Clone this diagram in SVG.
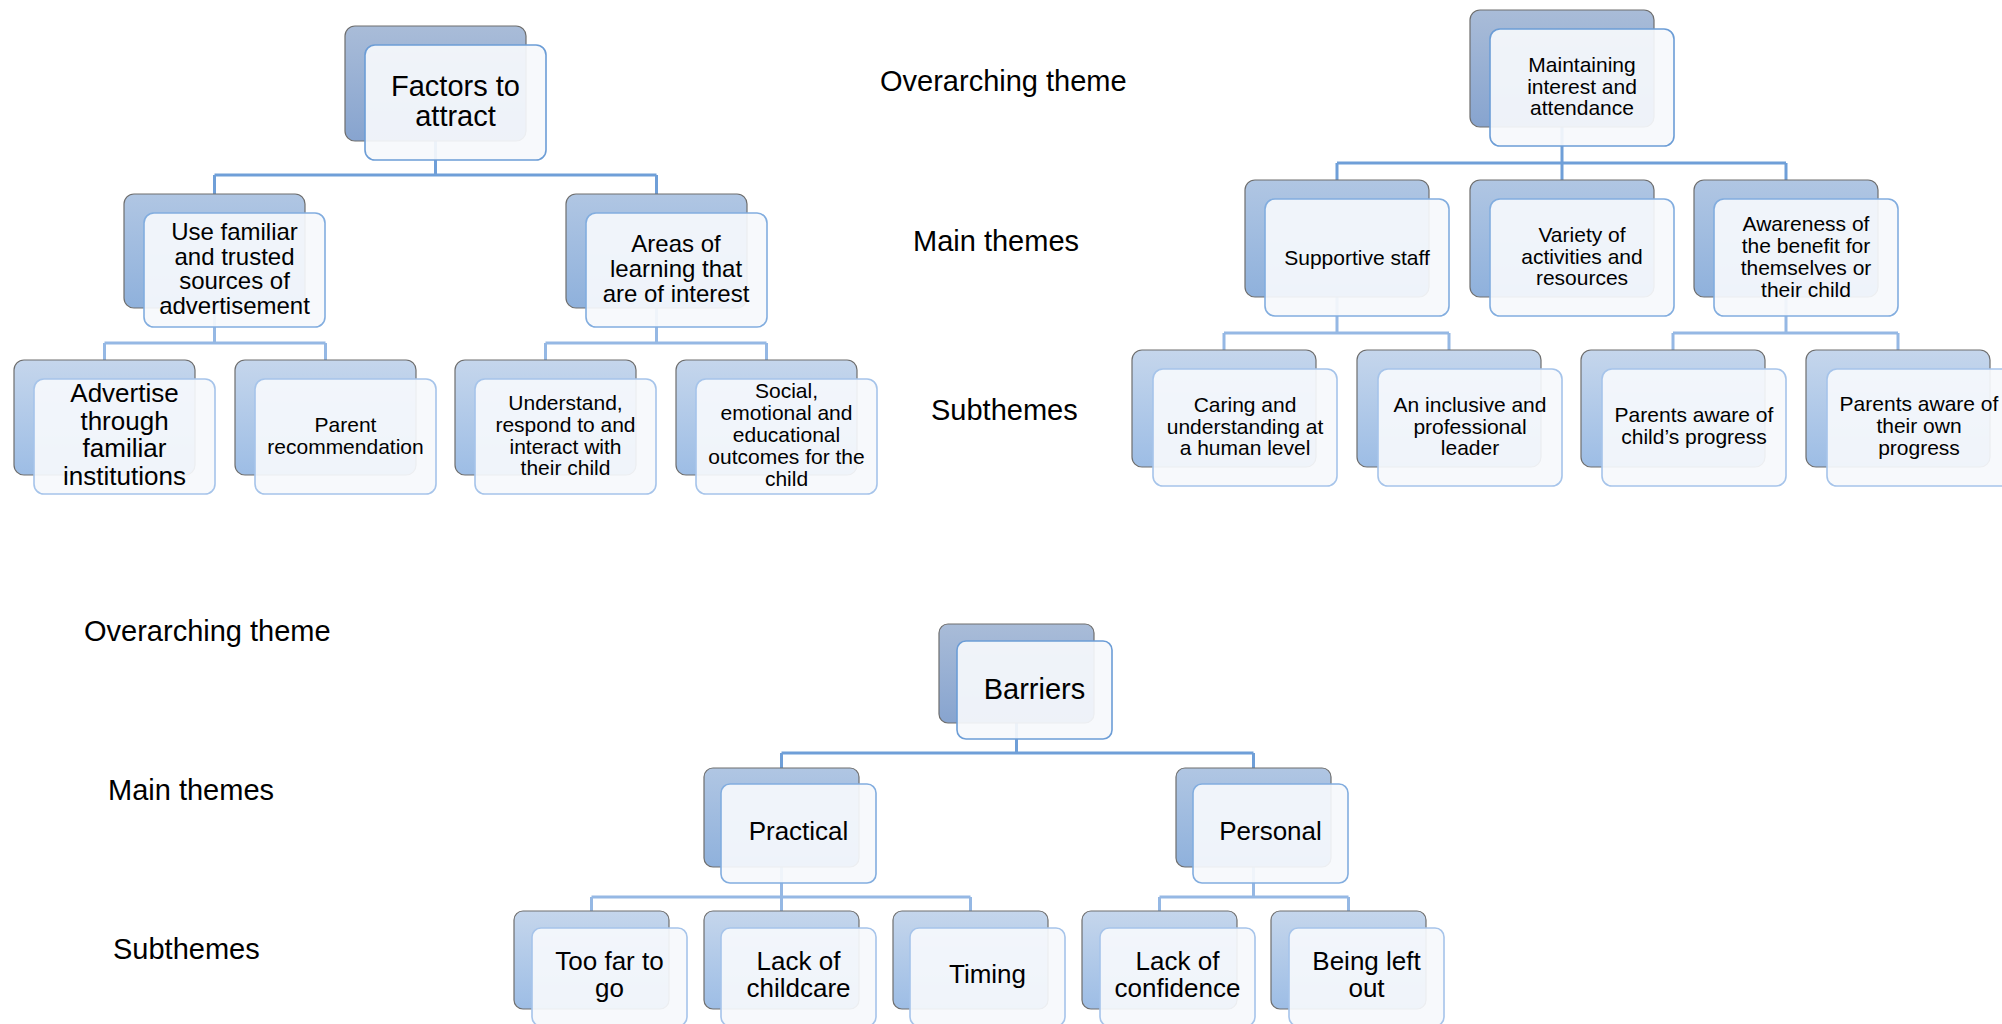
<svg xmlns="http://www.w3.org/2000/svg" width="2002" height="1024" viewBox="0 0 2002 1024">
  <defs>
    <linearGradient id="gL1" x1="0" y1="0" x2="0" y2="1">
      <stop offset="0" stop-color="#a9bcd8"/>
      <stop offset="1" stop-color="#87a4cf"/>
    </linearGradient>
    <linearGradient id="gL2" x1="0" y1="0" x2="0" y2="1">
      <stop offset="0" stop-color="#b0c6e3"/>
      <stop offset="1" stop-color="#8fb1dc"/>
    </linearGradient>
    <linearGradient id="gL3" x1="0" y1="0" x2="0" y2="1">
      <stop offset="0" stop-color="#c5d6ec"/>
      <stop offset="1" stop-color="#9dbde5"/>
    </linearGradient>
    <style>
      .back { stroke: #6e6e6e; stroke-width: 1.2; }
      .b1 { fill: url(#gL1); }
      .b2 { fill: url(#gL2); }
      .b3 { fill: url(#gL3); }
      .front { fill: #f6f8fc; fill-opacity: 0.92; stroke-width: 1.6; }
      .f1 { stroke: #6c9dd6; }
      .f2 { stroke: #82addf; }
      .f3 { stroke: #a6c4ea; }
      text { font-family: "Liberation Sans", Arial, sans-serif; fill: #000; }
      .t { text-anchor: middle; }
      .s29 { font-size: 29px; }
      .s26 { font-size: 26px; }
      .s24 { font-size: 24px; }
      .s21 { font-size: 21px; }
      .lbl { font-size: 29px; }
      .c1 { fill: none; stroke: #6f9fd8; stroke-width: 3; }
      .c2 { fill: none; stroke: #95b8e4; stroke-width: 3; }
    </style>
  </defs>

  <rect width="2002" height="1024" fill="#ffffff"/>

  <!-- level captions -->
  <g id="captions">
    <text class="lbl" x="880" y="91">Overarching theme</text>
    <text class="lbl" x="913" y="251">Main themes</text>
    <text class="lbl" x="931" y="420">Subthemes</text>
    <text class="lbl" x="84" y="641">Overarching theme</text>
    <text class="lbl" x="108" y="800">Main themes</text>
    <text class="lbl" x="113" y="959">Subthemes</text>
  </g>

  <!-- connectors -->
  <g id="connectors">
    <!-- Factors to attract -->
    <path class="c1" d="M435.5 141 V175 M214.5 175 H656.5 M214.5 175 V194 M656.5 175 V194"/>
    <path class="c2" d="M214.5 308 V343 M104.5 343 H325.5 M104.5 343 V360 M325.5 343 V360"/>
    <path class="c2" d="M656.5 308 V343 M545.5 343 H766.5 M545.5 343 V360 M766.5 343 V360"/>
    <!-- Maintaining interest and attendance -->
    <path class="c1" d="M1562 127 V163 M1337 163 H1786 M1337 163 V180 M1562 163 V180 M1786 163 V180"/>
    <path class="c2" d="M1337 297 V333 M1224 333 H1449 M1224 333 V350 M1449 333 V350"/>
    <path class="c2" d="M1786 297 V333 M1673 333 H1898 M1673 333 V350 M1898 333 V350"/>
    <!-- Barriers -->
    <path class="c1" d="M1016.5 723 V753 M781.5 753 H1253.5 M781.5 753 V768 M1253.5 753 V768"/>
    <path class="c2" d="M781.5 867 V897 M591.5 897 H970.5 M591.5 897 V911 M781.5 897 V911 M970.5 897 V911"/>
    <path class="c2" d="M1253.5 867 V897 M1159.5 897 H1348.5 M1159.5 897 V911 M1348.5 897 V911"/>
  </g>

  <!-- ===== Factors to attract ===== -->
  <g id="factors-to-attract">
    <rect class="back b1" x="345" y="26" width="181" height="115" rx="10"/>
    <rect class="front f1" x="365" y="45" width="181" height="115" rx="10"/>
    <text class="t s29"><tspan x="455.5" y="96">Factors to</tspan><tspan x="455.5" y="126">attract</tspan></text>
  </g>
  <g id="use-familiar-sources">
    <rect class="back b2" x="124" y="194" width="181" height="114" rx="10"/>
    <rect class="front f2" x="144" y="213" width="181" height="114" rx="10"/>
    <text class="t s24"><tspan x="234.5" y="240">Use familiar</tspan><tspan x="234.5" y="264.5">and trusted</tspan><tspan x="234.5" y="289">sources of</tspan><tspan x="234.5" y="313.5">advertisement</tspan></text>
  </g>
  <g id="areas-of-learning">
    <rect class="back b2" x="566" y="194" width="181" height="114" rx="10"/>
    <rect class="front f2" x="586" y="213" width="181" height="114" rx="10"/>
    <text class="t s24"><tspan x="676" y="252">Areas of</tspan><tspan x="676" y="277">learning that</tspan><tspan x="676" y="302">are of interest</tspan></text>
  </g>
  <g id="advertise-institutions">
    <rect class="back b3" x="14" y="360" width="181" height="115" rx="10"/>
    <rect class="front f3" x="34" y="379" width="181" height="115" rx="10"/>
    <text class="t s26"><tspan x="124.5" y="402">Advertise</tspan><tspan x="124.5" y="429.5">through</tspan><tspan x="124.5" y="457">familiar</tspan><tspan x="124.5" y="484.5">institutions</tspan></text>
  </g>
  <g id="parent-recommendation">
    <rect class="back b3" x="235" y="360" width="181" height="115" rx="10"/>
    <rect class="front f3" x="255" y="379" width="181" height="115" rx="10"/>
    <text class="t s21"><tspan x="345.5" y="432">Parent</tspan><tspan x="345.5" y="453.5">recommendation</tspan></text>
  </g>
  <g id="understand-respond">
    <rect class="back b3" x="455" y="360" width="181" height="115" rx="10"/>
    <rect class="front f3" x="475" y="379" width="181" height="115" rx="10"/>
    <text class="t s21"><tspan x="565.5" y="410">Understand,</tspan><tspan x="565.5" y="432">respond to and</tspan><tspan x="565.5" y="453.5">interact with</tspan><tspan x="565.5" y="475">their child</tspan></text>
  </g>
  <g id="social-outcomes">
    <rect class="back b3" x="676" y="360" width="181" height="115" rx="10"/>
    <rect class="front f3" x="696" y="379" width="181" height="115" rx="10"/>
    <text class="t s21"><tspan x="786.5" y="398">Social,</tspan><tspan x="786.5" y="420">emotional and</tspan><tspan x="786.5" y="442">educational</tspan><tspan x="786.5" y="464">outcomes for the</tspan><tspan x="786.5" y="486">child</tspan></text>
  </g>

  <!-- ===== Maintaining interest and attendance ===== -->
  <g id="maintaining-interest">
    <rect class="back b1" x="1470" y="10" width="184" height="117" rx="10"/>
    <rect class="front f1" x="1490" y="29" width="184" height="117" rx="10"/>
    <text class="t s21"><tspan x="1582" y="72">Maintaining</tspan><tspan x="1582" y="93.5">interest and</tspan><tspan x="1582" y="115">attendance</tspan></text>
  </g>
  <g id="supportive-staff">
    <rect class="back b2" x="1245" y="180" width="184" height="117" rx="10"/>
    <rect class="front f2" x="1265" y="199" width="184" height="117" rx="10"/>
    <text class="t s21" x="1357" y="265">Supportive staff</text>
  </g>
  <g id="variety-of-activities">
    <rect class="back b2" x="1470" y="180" width="184" height="117" rx="10"/>
    <rect class="front f2" x="1490" y="199" width="184" height="117" rx="10"/>
    <text class="t s21"><tspan x="1582" y="242">Variety of</tspan><tspan x="1582" y="263.5">activities and</tspan><tspan x="1582" y="285">resources</tspan></text>
  </g>
  <g id="awareness-of-benefit">
    <rect class="back b2" x="1694" y="180" width="184" height="117" rx="10"/>
    <rect class="front f2" x="1714" y="199" width="184" height="117" rx="10"/>
    <text class="t s21"><tspan x="1806" y="231">Awareness of</tspan><tspan x="1806" y="253">the benefit for</tspan><tspan x="1806" y="274.5">themselves or</tspan><tspan x="1806" y="296.5">their child</tspan></text>
  </g>
  <g id="caring-understanding">
    <rect class="back b3" x="1132" y="350" width="184" height="117" rx="10"/>
    <rect class="front f3" x="1153" y="369" width="184" height="117" rx="10"/>
    <text class="t s21"><tspan x="1245" y="412">Caring and</tspan><tspan x="1245" y="433.5">understanding at</tspan><tspan x="1245" y="455">a human level</tspan></text>
  </g>
  <g id="inclusive-leader">
    <rect class="back b3" x="1357" y="350" width="184" height="117" rx="10"/>
    <rect class="front f3" x="1378" y="369" width="184" height="117" rx="10"/>
    <text class="t s21"><tspan x="1470" y="412">An inclusive and</tspan><tspan x="1470" y="433.5">professional</tspan><tspan x="1470" y="455">leader</tspan></text>
  </g>
  <g id="aware-child-progress">
    <rect class="back b3" x="1581" y="350" width="184" height="117" rx="10"/>
    <rect class="front f3" x="1602" y="369" width="184" height="117" rx="10"/>
    <text class="t s21"><tspan x="1694" y="422">Parents aware of</tspan><tspan x="1694" y="444">child’s progress</tspan></text>
  </g>
  <g id="aware-own-progress">
    <rect class="back b3" x="1806" y="350" width="184" height="117" rx="10"/>
    <rect class="front f3" x="1827" y="369" width="184" height="117" rx="10"/>
    <text class="t s21"><tspan x="1919" y="411">Parents aware of</tspan><tspan x="1919" y="433">their own</tspan><tspan x="1919" y="455">progress</tspan></text>
  </g>

  <!-- ===== Barriers ===== -->
  <g id="barriers">
    <rect class="back b1" x="939" y="624" width="155" height="99" rx="9"/>
    <rect class="front f1" x="957" y="641" width="155" height="98" rx="9"/>
    <text class="t s29" x="1034.5" y="699">Barriers</text>
  </g>
  <g id="practical">
    <rect class="back b2" x="704" y="768" width="155" height="99" rx="9"/>
    <rect class="front f2" x="721" y="784" width="155" height="99" rx="9"/>
    <text class="t s26" x="798.5" y="840">Practical</text>
  </g>
  <g id="personal">
    <rect class="back b2" x="1176" y="768" width="155" height="99" rx="9"/>
    <rect class="front f2" x="1193" y="784" width="155" height="99" rx="9"/>
    <text class="t s26" x="1270.5" y="840">Personal</text>
  </g>
  <g id="too-far-to-go">
    <rect class="back b3" x="514" y="911" width="155" height="98" rx="9"/>
    <rect class="front f3" x="532" y="928" width="155" height="98" rx="9"/>
    <text class="t s26"><tspan x="609.5" y="970">Too far to</tspan><tspan x="609.5" y="997">go</tspan></text>
  </g>
  <g id="lack-of-childcare">
    <rect class="back b3" x="704" y="911" width="155" height="98" rx="9"/>
    <rect class="front f3" x="721" y="928" width="155" height="98" rx="9"/>
    <text class="t s26"><tspan x="798.5" y="970">Lack of</tspan><tspan x="798.5" y="997">childcare</tspan></text>
  </g>
  <g id="timing">
    <rect class="back b3" x="893" y="911" width="155" height="98" rx="9"/>
    <rect class="front f3" x="910" y="928" width="155" height="98" rx="9"/>
    <text class="t s26" x="987.5" y="983">Timing</text>
  </g>
  <g id="lack-of-confidence">
    <rect class="back b3" x="1082" y="911" width="155" height="98" rx="9"/>
    <rect class="front f3" x="1100" y="928" width="155" height="98" rx="9"/>
    <text class="t s26"><tspan x="1177.5" y="970">Lack of</tspan><tspan x="1177.5" y="997">confidence</tspan></text>
  </g>
  <g id="being-left-out">
    <rect class="back b3" x="1271" y="911" width="155" height="98" rx="9"/>
    <rect class="front f3" x="1289" y="928" width="155" height="98" rx="9"/>
    <text class="t s26"><tspan x="1366.5" y="970">Being left</tspan><tspan x="1366.5" y="997">out</tspan></text>
  </g>
</svg>
